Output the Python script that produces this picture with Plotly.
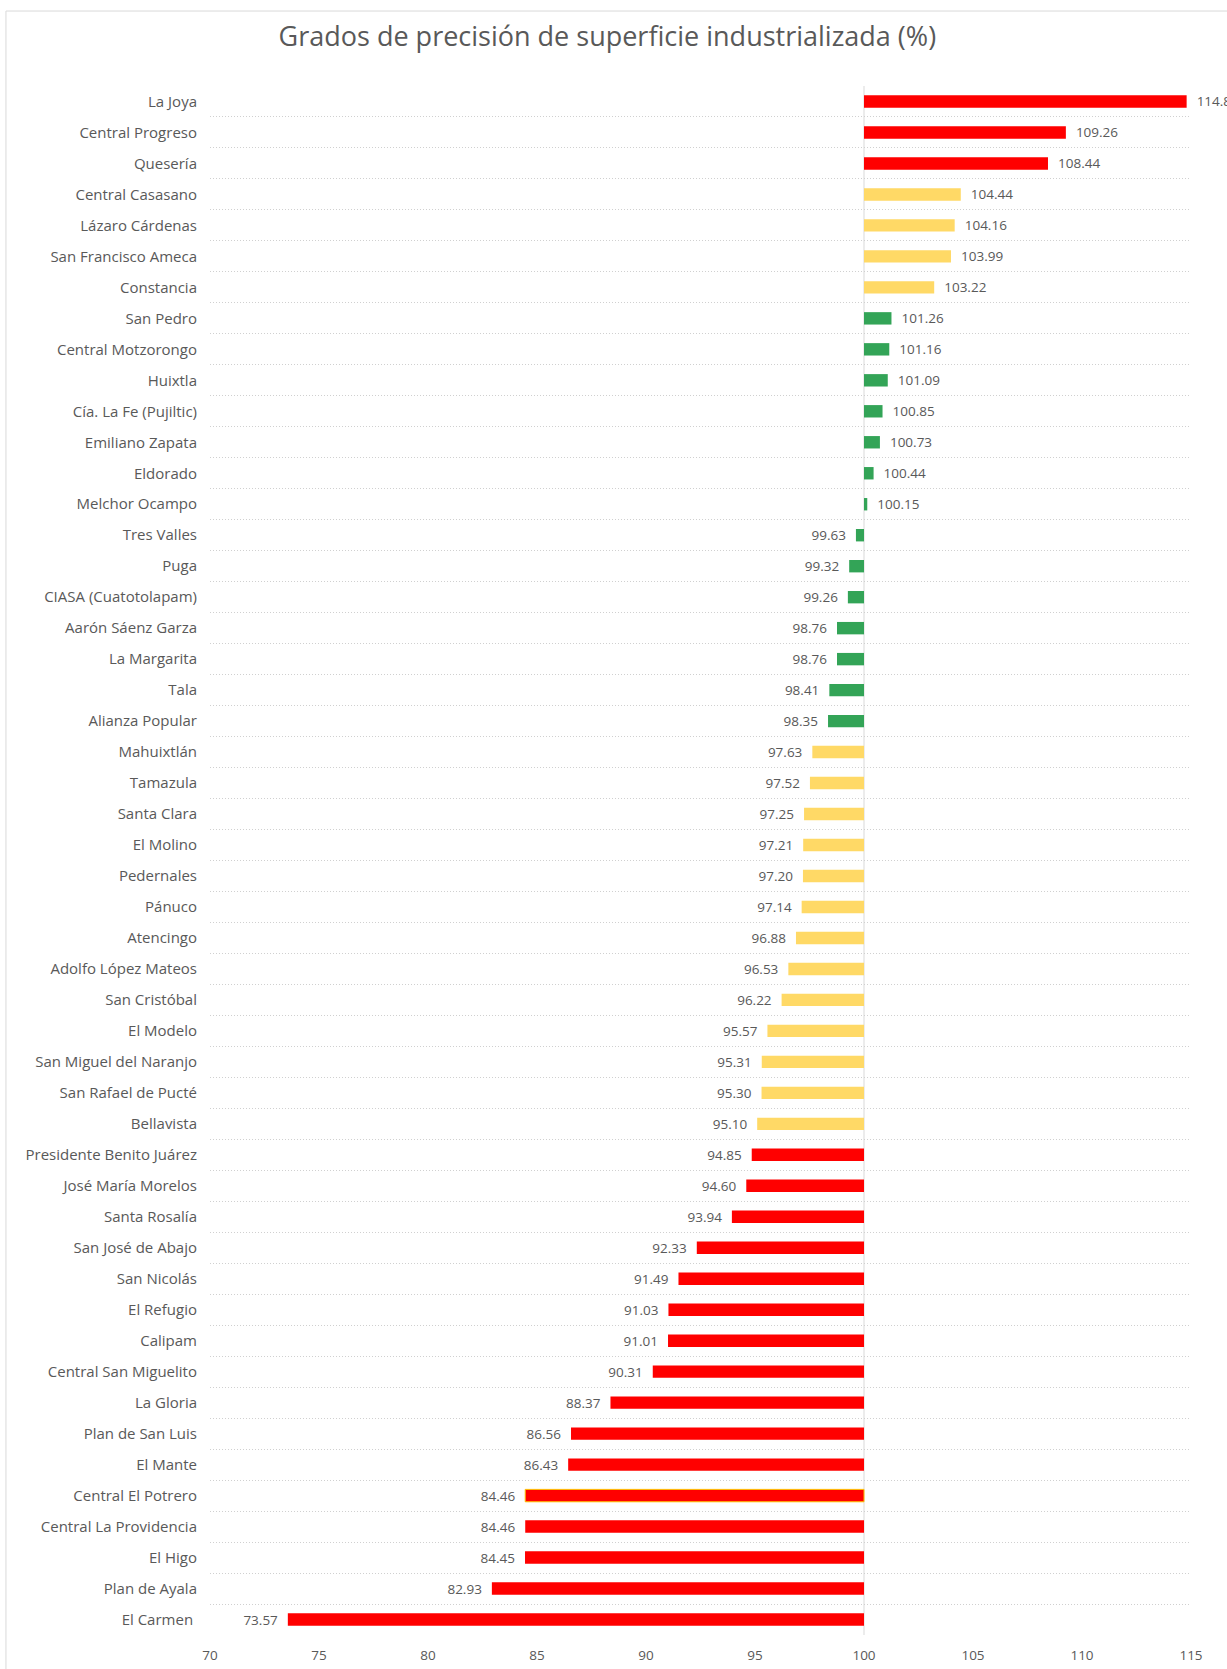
import plotly.graph_objects as go

categories = [
    "La Joya", "Central Progreso", "Quesería", "Central Casasano", "Lázaro Cárdenas",
    "San Francisco Ameca", "Constancia", "San Pedro", "Central Motzorongo", "Huixtla",
    "Cía. La Fe (Pujiltic)", "Emiliano Zapata", "Eldorado", "Melchor Ocampo", "Tres Valles",
    "Puga", "CIASA (Cuatotolapam)", "Aarón Sáenz Garza", "La Margarita", "Tala",
    "Alianza Popular", "Mahuixtlán", "Tamazula", "Santa Clara", "El Molino",
    "Pedernales", "Pánuco", "Atencingo", "Adolfo López Mateos", "San Cristóbal",
    "El Modelo", "San Miguel del Naranjo", "San Rafael de Pucté", "Bellavista",
    "Presidente Benito Juárez", "José María Morelos", "Santa Rosalía", "San José de Abajo",
    "San Nicolás", "El Refugio", "Calipam", "Central San Miguelito", "La Gloria",
    "Plan de San Luis", "El Mante", "Central El Potrero", "Central La Providencia",
    "El Higo", "Plan de Ayala", "El Carmen ",
]

values = [
    114.80, 109.26, 108.44, 104.44, 104.16,
    103.99, 103.22, 101.26, 101.16, 101.09,
    100.85, 100.73, 100.44, 100.15, 99.63,
    99.32, 99.26, 98.76, 98.76, 98.41,
    98.35, 97.63, 97.52, 97.25, 97.21,
    97.20, 97.14, 96.88, 96.53, 96.22,
    95.57, 95.31, 95.30, 95.10,
    94.85, 94.60, 93.94, 92.33,
    91.49, 91.03, 91.01, 90.31, 88.37,
    86.56, 86.43, 84.46, 84.46,
    84.45, 82.93, 73.57,
]

x_ticks = [70, 75, 80, 85, 90, 95, 100, 105, 110, 115]
reference = 100
outlined = ["Central El Potrero"]

RED = "#FF0000"
YELLOW = "#FFD966"
GREEN = "#33A457"
TEXT = "#595959"
FONT = "Open Sans"
PAD = "\u00a0\u00a0"


def color_for(v):
    d = abs(v - reference)
    if d <= 2:
        return GREEN
    if d <= 5:
        return YELLOW
    return RED


def label_for(v):
    s = f"{v:.2f}"
    return PAD + s if v >= reference else s + PAD


n = len(categories)
ypos = list(range(n))
colors = [color_for(v) for v in values]
line_colors = ["#FFC000" if c in outlined else "rgba(0,0,0,0)" for c in categories]
line_widths = [1 if c in outlined else 0 for c in categories]

fig = go.Figure()
fig.add_trace(go.Bar(
    y=ypos,
    x=[v - reference for v in values],
    base=reference,
    orientation="h",
    width=0.4,
    marker=dict(color=colors, line=dict(color=line_colors, width=line_widths)),
    text=[label_for(v) for v in values],
    textposition="outside",
    constraintext="none",
    textfont=dict(color=TEXT, size=13.5, family=FONT),
    cliponaxis=False,
    hoverinfo="skip",
    showlegend=False,
))

fig.add_shape(type="line", xref="x", yref="paper", x0=reference, x1=reference, y0=0, y1=1,
              line=dict(color="#D9D9D9", width=1), layer="below")

# outer frame
fig.add_shape(type="rect", xref="paper", yref="paper", x0=-0.208, x1=1.2, y0=-0.2, y1=1.0484,
              line=dict(color="#D9D9D9", width=1), layer="below")

fig.update_layout(
    width=1227,
    height=1669,
    margin=dict(l=210, r=36, t=86, b=34),
    paper_bgcolor="white",
    plot_bgcolor="white",
    font=dict(family=FONT, color=TEXT),
    title=dict(
        text="Grados de precisión de superficie industrializada (%)",
        x=0.495, xref="container", xanchor="center",
        y=1 - 37 / 1669, yref="container", yanchor="middle",
        font=dict(size=27, color=TEXT, family=FONT),
    ),
    xaxis=dict(
        range=[70, 115],
        tickvals=x_ticks,
        ticktext=[str(t) for t in x_ticks],
        showgrid=False,
        zeroline=False,
        showline=False,
        automargin=False,
        ticklabelstandoff=10,
        tickfont=dict(size=13.5, color=TEXT),
    ),
    yaxis=dict(
        range=[n - 0.5, -0.5],
        tickvals=ypos,
        ticktext=categories,
        showgrid=False,
        zeroline=False,
        showline=False,
        automargin=False,
        ticklabelstandoff=12,
        tickfont=dict(size=15, color=TEXT),
        minor=dict(
            tickvals=[i - 0.5 for i in range(n + 1)],
            showgrid=True,
            gridcolor="#D0D0D0",
            griddash="1px,2px",
            gridwidth=1,
            ticks="",
        ),
    ),
)

fig.write_html("out.html", config={"displayModeBar": False},
               post_script="document.body.style.margin='0px';")
